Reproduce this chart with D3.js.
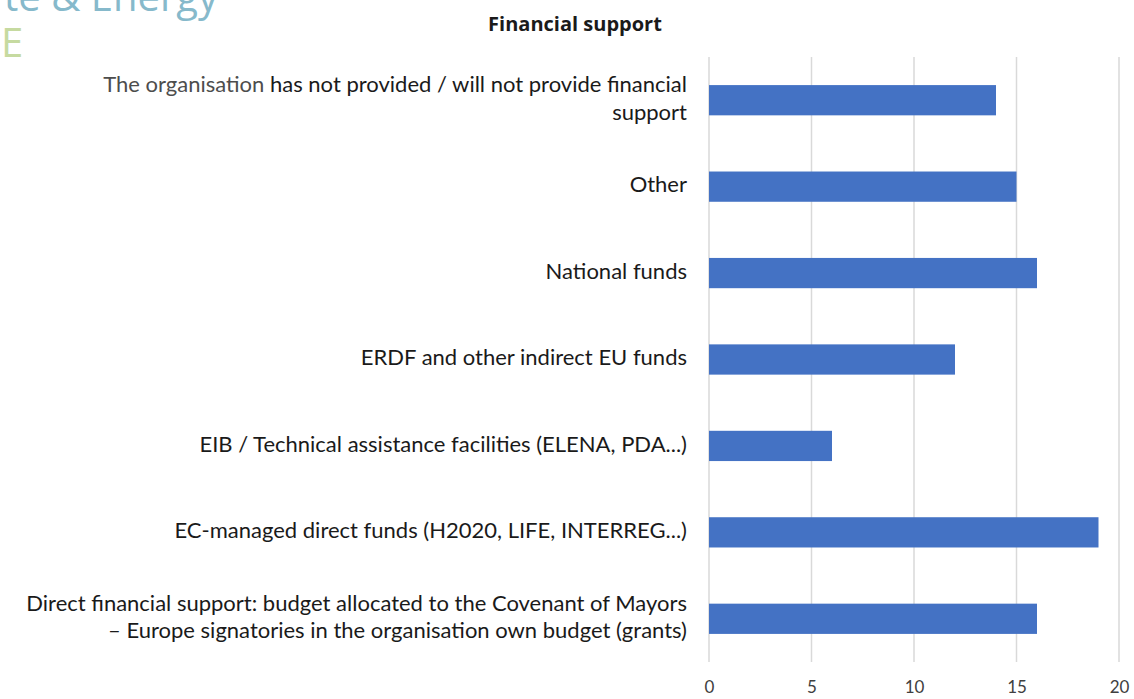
<!DOCTYPE html>
<html>
<head>
<meta charset="utf-8">
<script src="https://cdn.jsdelivr.net/npm/d3@7"></script>
<style>
  body { margin: 0; background: #fff; }
  svg { display: block; }
</style>
</head>
<body>
<div id="chart"></div>
<script>
// categories, top to bottom (line breaks as in the picture)
const categories = [
    ["The organisation has not provided / will not provide financial", "support"],
    ["Other"],
    ["National funds"],
    ["ERDF and other indirect EU funds"],
    ["EIB / Technical assistance facilities (ELENA, PDA...)"],
    ["EC-managed direct funds (H2020, LIFE, INTERREG...)"],
    ["Direct financial support: budget allocated to the Covenant of Mayors", "\u2013 Europe signatories in the organisation own budget (grants)"]
];
const values = [14, 15, 16, 12, 6, 19, 16];
const xTicks = [0, 5, 10, 15, 20];
const title = "Financial support";

const width = 1134, height = 699;
const margin = { top: 57, right: 15, bottom: 37, left: 709 };
const labelFont = "Lato, 'Open Sans', sans-serif";

const svg = d3.select("#chart")
    .append("svg")
    .attr("width", width)
    .attr("height", height);

// cut-off banner text in the corner of the source picture
svg.append("text")
    .attr("x", 218)
    .attr("y", 11)
    .attr("text-anchor", "end")
    .attr("font-family", "'Open Sans', sans-serif")
    .attr("font-size", 40)
    .attr("fill", "#86b9cb")
    .text("te & Energy");
svg.append("text")
    .attr("x", 1)
    .attr("y", 57)
    .attr("font-family", "'Open Sans', sans-serif")
    .attr("font-size", 40)
    .attr("fill", "#c6daa0")
    .text("E");

svg.append("text")
    .attr("x", 575)
    .attr("y", 31)
    .attr("text-anchor", "middle")
    .attr("font-family", "'Open Sans', sans-serif")
    .attr("font-weight", "bold")
    .attr("font-size", 20)
    .attr("fill", "#1a1a1a")
    .text(title);

const x = d3.scaleLinear()
    .domain([0, 20])
    .range([margin.left, width - margin.right]);

const y = d3.scaleBand()
    .domain(d3.range(categories.length))
    .range([margin.top, height - margin.bottom])
    .paddingInner(0.65)
    .paddingOuter(0.325);

//grid lines
svg.append("g")
    .selectAll("line")
    .data(xTicks)
    .join("line")
    .attr("x1", d => x(d))
    .attr("x2", d => x(d))
    .attr("y1", margin.top)
    .attr("y2", height - margin.bottom)
    .attr("stroke", "#d9d9d9")
    .attr("stroke-width", 1.5);

// x axis, labels only
const xAxis = svg.append("g")
    .attr("transform", `translate(0,${height - margin.bottom})`)
    .call(d3.axisBottom(x).tickValues(xTicks).tickSize(0).tickPadding(19));
xAxis.select(".domain").remove();
xAxis.selectAll("text")
    .attr("font-family", labelFont)
    .attr("font-size", 17)
    .attr("fill", "#404040");

svg.append("g")
    .selectAll("rect")
    .data(values)
    .join("rect")
    .attr("x", x(0))
    .attr("y", (d, i) => y(i))
    .attr("width", d => x(d) - x(0))
    .attr("height", y.bandwidth())
    .attr("fill", "#4472c4");

// category labels, right aligned
const lineH = 27.5;
const labels = svg.append("g")
    .selectAll("text")
    .data(categories)
    .join("text")
    .attr("text-anchor", "end")
    .attr("font-family", labelFont)
    .attr("font-size", 22)
    .attr("fill", "#1a1a1a");

labels.each(function (lines, i) {
    const cy = y(i) + y.bandwidth() / 2;
    const first = cy + 5.7 - (lines.length - 1) * lineH / 2;
    d3.select(this)
        .selectAll("tspan")
        .data(lines)
        .join("tspan")
        .attr("x", 687)
        .attr("y", (d, j) => first + j * lineH)
        .each(function (d) {
            // the source shows the opening words of the first label paler
            const lead = "The organisation";
            const t = d3.select(this);
            if (d.startsWith(lead)) {
                t.append("tspan").attr("fill", "#4d4d4d").text(lead);
                t.append("tspan").text(d.slice(lead.length));
            } else {
                t.text(d);
            }
        });
});
</script>
</body>
</html>
